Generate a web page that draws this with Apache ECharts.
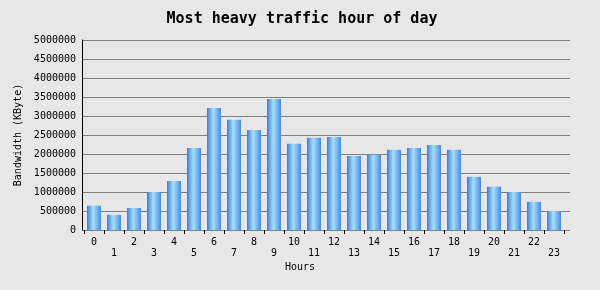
<!DOCTYPE html>
<html>
<head>
<meta charset="utf-8">
<script src="https://cdn.jsdelivr.net/npm/echarts@6/dist/echarts.min.js"></script>
<style>html,body{margin:0;padding:0;background:#e7e7e7;}#c{width:600px;height:290px;}</style>
</head>
<body>
<div id="c"></div>
<script>
var hours = ['0','1','2','3','4','5','6','7','8','9','10','11','12','13','14','15','16','17','18','19','20','21','22','23'];
var bandwidth = [640000, 400000, 580000, 1000000, 1290000, 2160000, 3210000, 2900000, 2630000, 3450000, 2270000, 2430000, 2450000, 1950000, 1980000, 2110000, 2160000, 2240000, 2110000, 1400000, 1140000, 1000000, 740000, 500000];
var yTicks = {min: 0, max: 5000000, interval: 500000};

var mono = 'DejaVu Sans Mono';
var chart = echarts.init(document.getElementById('c'), null, {renderer: 'canvas'});
var barGrad = new echarts.graphic.LinearGradient(0, 0, 1, 0, [
  {offset: 0, color: '#3a7cd8'},
  {offset: 0.45, color: '#a8e0fc'},
  {offset: 1, color: '#468ae4'}
]);
chart.setOption({
  backgroundColor: '#e7e7e7',
  animation: false,
  title: {
    text: 'Most heavy traffic hour of day',
    left: 297, top: 7, textAlign: 'center',
    textStyle: {fontFamily: mono, fontWeight: 'bold', fontSize: 15, color: '#000'}
  },
  grid: [
    {left: 82, right: 30, top: 40, bottom: 60, containLabel: false, outerBoundsMode: 'none'},
    {left: 84, width: 480, top: 40, bottom: 60, containLabel: false, outerBoundsMode: 'none'}
  ],
  xAxis: [
    {gridIndex: 0, type: 'value', show: false, min: 0, max: 1},
    {
      gridIndex: 1, type: 'category', data: hours, boundaryGap: true,
      axisLine: {show: true, lineStyle: {color: '#808080', width: 1}},
      axisTick: {show: true, length: 4, lineStyle: {color: '#000'}},
      axisLabel: {
        interval: 0, margin: 7, color: '#000', fontFamily: mono, fontSize: 10, lineHeight: 11,
        formatter: function (v, i) { return (i % 2 === 1) ? '\n' + v : v; }
      }
    }
  ],
  yAxis: [
    {
      gridIndex: 0, type: 'value', min: yTicks.min, max: yTicks.max, interval: yTicks.interval,
      name: 'Bandwidth (KByte)', nameLocation: 'middle', nameGap: 59, nameRotate: 90,
      nameTextStyle: {fontFamily: mono, fontSize: 10, color: '#000'},
      axisLine: {show: true, lineStyle: {color: '#000', width: 1}},
      axisTick: {show: false},
      axisLabel: {margin: 6, color: '#000', fontFamily: mono, fontSize: 10,
        formatter: function (v) { return String(v); }},
      splitLine: {show: true, lineStyle: {color: '#808080', width: 1}}
    },
    {gridIndex: 1, type: 'value', min: yTicks.min, max: yTicks.max, interval: yTicks.interval, show: false}
  ],
  graphic: [
    {type: 'text', left: 285, top: 262, style: {text: 'Hours', font: '10px "DejaVu Sans Mono"', fill: '#000'}}
  ],
  series: [{
    type: 'bar', xAxisIndex: 1, yAxisIndex: 1, data: bandwidth, barWidth: 14,
    itemStyle: {color: barGrad}
  }]
});
</script>
</body>
</html>
